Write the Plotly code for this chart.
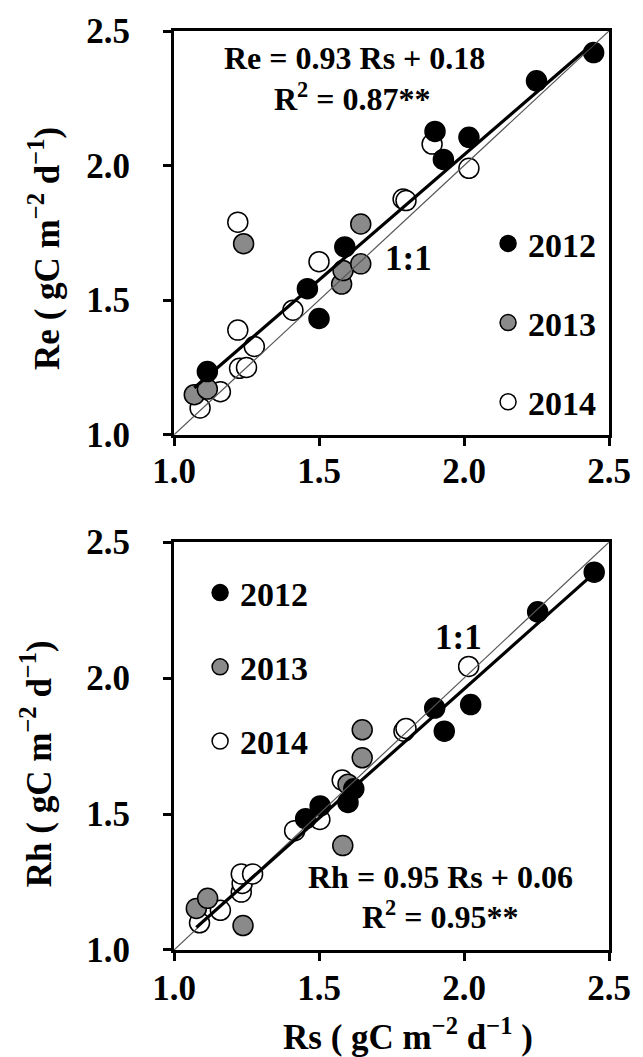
import plotly.graph_objects as go

# ---------------- data ----------------
years = ["2012", "2013", "2014"]

# Top panel: Re vs Rs
top_rs_2012 = [1.115, 1.46, 1.50, 1.589, 1.90, 1.929, 2.017, 2.25, 2.447]
top_re_2012 = [1.235, 1.543, 1.432, 1.698, 2.127, 2.023, 2.105, 2.315, 2.42]
top_rs_2013 = [1.07, 1.115, 1.24, 1.578, 1.583, 1.644, 1.644]
top_re_2013 = [1.149, 1.17, 1.71, 1.56, 1.61, 1.635, 1.783]
top_rs_2014 = [1.09, 1.16, 1.22, 1.22, 1.226, 1.25, 1.277, 1.41, 1.50, 1.79, 1.80, 1.89, 2.017]
top_re_2014 = [1.10, 1.16, 1.79, 1.389, 1.247, 1.25, 1.328, 1.463, 1.643, 1.876, 1.87, 2.08, 1.99]

# Bottom panel: Rh vs Rs
bot_rs_2012 = [1.454, 1.504, 1.60, 1.62, 1.899, 1.932, 2.023, 2.254, 2.449]
bot_rh_2012 = [1.483, 1.53, 1.543, 1.593, 1.89, 1.805, 1.903, 2.244, 2.39]
bot_rs_2013 = [1.077, 1.116, 1.238, 1.582, 1.60, 1.649, 1.649]
bot_rh_2013 = [1.153, 1.19, 1.09, 1.384, 1.61, 1.707, 1.81]
bot_rs_2014 = [1.088, 1.16, 1.232, 1.235, 1.232, 1.271, 1.416, 1.503, 1.58, 1.793, 1.80, 2.016]
bot_rh_2014 = [1.10, 1.146, 1.213, 1.245, 1.28, 1.28, 1.439, 1.48, 1.625, 1.805, 1.815, 2.043]

# regression coefficients (slope, intercept) and R^2
top_fit = (0.93, 0.18, 0.87)
bot_fit = (0.95, 0.06, 0.95)

axis_range = [1.0, 2.5]
tick_vals = [1.0, 1.5, 2.0, 2.5]
tick_text = ["1.0", "1.5", "2.0", "2.5"]

FONT = "Liberation Serif"
fill = {"2012": "black", "2013": "#8a8a8a", "2014": "white"}

fig = go.Figure()

def add_panel(xa, ya, legend, data, fit):
    # markers: 2014 drawn first, 2012 on top
    for yr in ["2014", "2013", "2012"]:
        xs, ys = data[yr]
        fig.add_trace(go.Scatter(
            x=xs, y=ys, mode="markers", name=yr,
            xaxis=xa, yaxis=ya, legend=legend,
            legendgroup=legend + yr, legendrank={"2012": 1, "2013": 2, "2014": 3}[yr],
            marker=dict(size=20, color=fill[yr], line=dict(color="black", width=1.5)),
            showlegend=True,
        ))
    allx = [v for yr in years for v in data[yr][0]]
    x0, x1 = min(allx), max(allx)
    slope, icpt, _ = fit
    # 1:1 line
    fig.add_trace(go.Scatter(x=axis_range, y=axis_range, mode="lines",
                             xaxis=xa, yaxis=ya, showlegend=False,
                             line=dict(color="#555555", width=1.2)))
    # regression line
    fig.add_trace(go.Scatter(x=[x0, x1], y=[slope * x0 + icpt, slope * x1 + icpt],
                             mode="lines", xaxis=xa, yaxis=ya, showlegend=False,
                             line=dict(color="black", width=3.2)))

add_panel("x", "y", "legend",
          {"2012": (top_rs_2012, top_re_2012), "2013": (top_rs_2013, top_re_2013),
           "2014": (top_rs_2014, top_re_2014)}, top_fit)
add_panel("x2", "y2", "legend2",
          {"2012": (bot_rs_2012, bot_rh_2012), "2013": (bot_rs_2013, bot_rh_2013),
           "2014": (bot_rs_2014, bot_rh_2014)}, bot_fit)

axis_common = dict(range=axis_range, tickvals=tick_vals, ticktext=tick_text,
                   showgrid=False, zeroline=False, showline=True, mirror=True,
                   linecolor="black", linewidth=3, ticks="outside", ticklen=8,
                   tickwidth=3, tickcolor="black", ticklabeloverflow="allow",
                   tickfont=dict(family=FONT, size=35, color="black", weight="bold"))

title_font = dict(family=FONT, size=35, color="black", weight="bold")
leg_font = dict(family=FONT, size=34, color="black", weight="bold")

fig.update_layout(
    width=643, height=1057,
    margin=dict(l=174, r=21, t=26, b=107),
    paper_bgcolor="white", plot_bgcolor="white",
    showlegend=True,
    xaxis=dict(domain=[0, 1], anchor="y", ticklabelstandoff=-5, **axis_common),
    yaxis=dict(domain=[0.5606, 1.0], anchor="x", ticklabelstandoff=26, **axis_common),
    xaxis2=dict(domain=[0, 1], anchor="y2", ticklabelstandoff=-3, **axis_common),
    yaxis2=dict(domain=[0, 0.4437], anchor="x2", ticklabelstandoff=26, **axis_common),
    legend=dict(x=0.722, y=0.80, xanchor="left", yanchor="top",
                bgcolor="rgba(0,0,0,0)", tracegroupgap=32, itemsizing="trace",
                font=leg_font),
    legend2=dict(x=0.06, y=0.42, xanchor="left", yanchor="top",
                 bgcolor="rgba(0,0,0,0)", tracegroupgap=27, itemsizing="trace",
                 font=leg_font),
)

unit = " ( gC m<sup>\u22122</sup> d<sup>\u22121</sup>)"
# axis titles as paper-anchored annotations (pixel offsets from the plot edges)
fig.add_annotation(text="Re" + unit, xref="paper", yref="paper", x=0, y=0.7803,
                   xanchor="center", yanchor="middle", xshift=-129, yshift=-16,
                   textangle=-90, showarrow=False, font=title_font)
fig.add_annotation(text="Rh" + unit, xref="paper", yref="paper", x=0, y=0.2218,
                   xanchor="center", yanchor="middle", xshift=-138, yshift=-18,
                   textangle=-90, showarrow=False, font=title_font)
fig.add_annotation(text="Rs ( gC m<sup>\u22122</sup> d<sup>\u22121</sup> )",
                   xref="paper", yref="paper", x=0.538, y=0,
                   xanchor="center", yanchor="bottom", yshift=-109,
                   showarrow=False, font=title_font)

eq_font = dict(family=FONT, size=32, color="black", weight="bold")
fig.add_annotation(x=1.622, y=2.40, xref="x", yref="y", showarrow=False,
                   text=f"Re = {top_fit[0]:.2f} Rs + {top_fit[1]:.2f}", font=eq_font)
fig.add_annotation(x=1.615, y=2.255, xref="x", yref="y", showarrow=False,
                   text=f"R<sup>2</sup> = {top_fit[2]:.2f}**", font=eq_font)
fig.add_annotation(x=1.809, y=1.654, xref="x", yref="y", showarrow=False,
                   text="1:1", font=dict(family=FONT, size=35, color="black", weight="bold"))

fig.add_annotation(x=1.92, y=1.267, xref="x2", yref="y2", showarrow=False,
                   text=f"Rh = {bot_fit[0]:.2f} Rs + {bot_fit[1]:.2f}", font=eq_font)
fig.add_annotation(x=1.92, y=1.13, xref="x2", yref="y2", showarrow=False,
                   text=f"R<sup>2</sup> = {bot_fit[2]:.2f}**", font=eq_font)
fig.add_annotation(x=1.98, y=2.149, xref="x2", yref="y2", showarrow=False,
                   text="1:1", font=dict(family=FONT, size=35, color="black", weight="bold"))

fig.write_html("out.html")
